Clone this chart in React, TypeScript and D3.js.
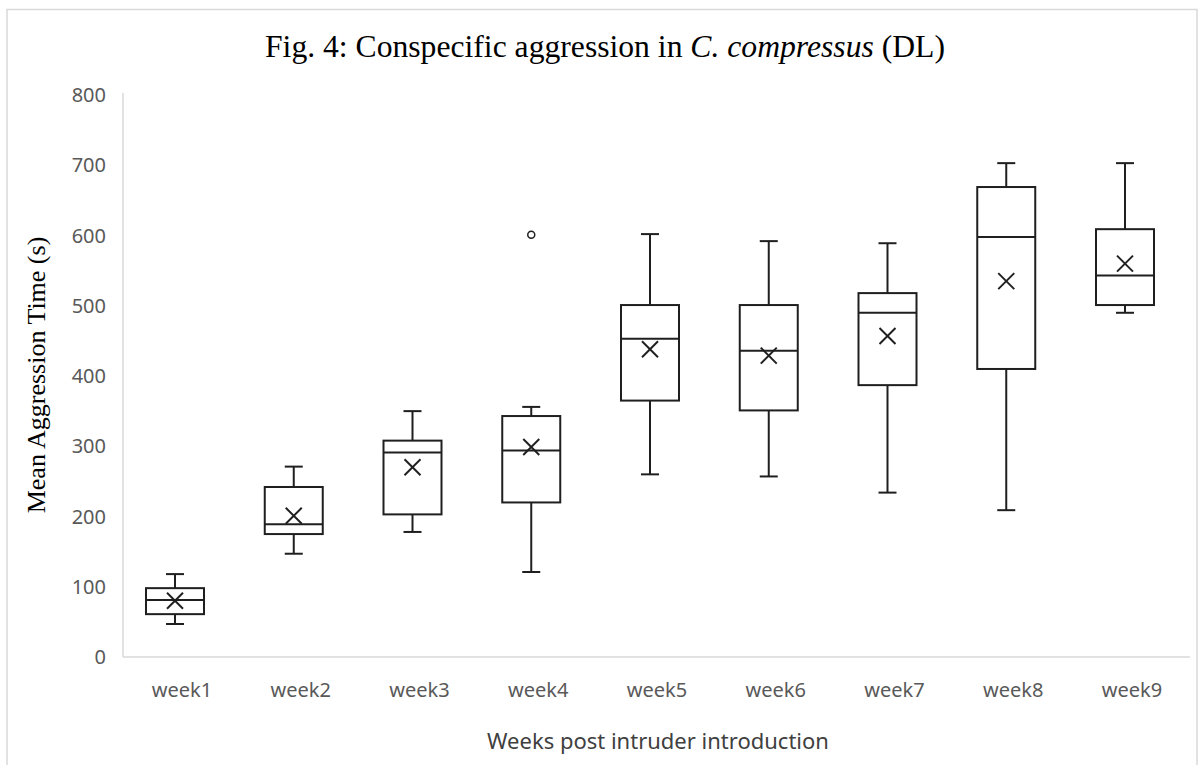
import React from "react";
import * as d3 from "d3";

const weeks = ["week1", "week2", "week3", "week4", "week5", "week6", "week7", "week8", "week9"];
const mins = [47, 147, 178, 121, 260, 257, 234, 209, 490];
const q1s = [61, 175, 203, 220, 365, 351, 387, 410, 501];
const medians = [81, 189, 291, 294, 453, 436, 490, 598, 543];
const q3s = [98, 242, 308, 343, 501, 501, 518, 669, 609];
const maxs = [118, 271, 350, 356, 602, 592, 589, 703, 703];
const means = [80, 201, 270, 299, 438, 429, 457, 535, 560];
const outliers: [string, number][] = [["week4", 601]];
const yTicks = [0, 100, 200, 300, 400, 500, 600, 700, 800];

const W = 1200;
const H = 765;

export default function App() {
  const x = d3.scalePoint<string>().domain(weeks).range([175, 1125]);
  const y = d3.scaleLinear().domain([0, 800]).range([657, 95]);
  const bw = 58;
  const cap = 9;
  const xs = 8;
  const stroke = "#1f1f1f";
  const sans = "'Noto Sans', 'Open Sans', sans-serif";
  const serif = "'Liberation Serif', 'DejaVu Serif', serif";

  return (
    <svg width={W} height={H} style={{ position: "absolute", left: 0, top: 0, background: "#fff" }}>
      <rect x={0} y={0} width={W} height={H} fill="#fff" />
      <rect x={7} y={9.5} width={1190} height={800} fill="none" stroke="#d9d9d9" strokeWidth={1.5} />
      <text x={605} y={57} textAnchor="middle" fontFamily={serif} fontSize={31} fill="#000" textLength={680} lengthAdjust="spacingAndGlyphs">
        Fig. 4: Conspecific aggression in <tspan fontStyle="italic">C. compressus</tspan> (DL)
      </text>
      {/* axes */}
      <line x1={123} x2={123} y1={y(800) - 2} y2={y(0)} stroke="#d9d9d9" strokeWidth={1.5} />
      <line x1={123} x2={1190} y1={y(0)} y2={y(0)} stroke="#d9d9d9" strokeWidth={1.5} />
      {yTicks.map((t) => (
        <text key={t} x={106} y={y(t)} dy="0.35em" textAnchor="end" fontFamily={sans} fontSize={20} fill="#595959">
          {t}
        </text>
      ))}
      {weeks.map((w) => (
        <text key={w} x={(x(w) as number) + 7} y={690} dy="0.35em" textAnchor="middle" fontFamily={sans} fontSize={20} fill="#595959">
          {w}
        </text>
      ))}
      <text x={658} y={741} dy="0.35em" textAnchor="middle" fontFamily={sans} fontSize={22} fill="#404040">
        Weeks post intruder introduction
      </text>
      <text
        transform={`translate(36,375) rotate(-90)`}
        textAnchor="middle"
        dy="0.35em"
        fontFamily={serif}
        fontSize={26}
        fill="#000"
      >
        Mean Aggression Time (s)
      </text>
      {/* boxes */}
      {weeks.map((w, i) => {
        const cx = x(w) as number;
        return (
          <g key={w} stroke={stroke} strokeWidth={2} fill="none">
            <line x1={cx} x2={cx} y1={y(maxs[i])} y2={y(q3s[i])} />
            <line x1={cx} x2={cx} y1={y(q1s[i])} y2={y(mins[i])} />
            <line x1={cx - cap} x2={cx + cap} y1={y(maxs[i])} y2={y(maxs[i])} />
            <line x1={cx - cap} x2={cx + cap} y1={y(mins[i])} y2={y(mins[i])} />
            <rect x={cx - bw / 2} y={y(q3s[i])} width={bw} height={y(q1s[i]) - y(q3s[i])} />
            <line x1={cx - bw / 2} x2={cx + bw / 2} y1={y(medians[i])} y2={y(medians[i])} />
            <line x1={cx - xs} x2={cx + xs} y1={y(means[i]) - xs} y2={y(means[i]) + xs} />
            <line x1={cx - xs} x2={cx + xs} y1={y(means[i]) + xs} y2={y(means[i]) - xs} />
          </g>
        );
      })}
      {outliers.map(([w, v], i) => (
        <circle key={i} cx={x(w) as number} cy={y(v)} r={3.5} fill="#fff" stroke={stroke} strokeWidth={1.5} />
      ))}
    </svg>
  );
}
